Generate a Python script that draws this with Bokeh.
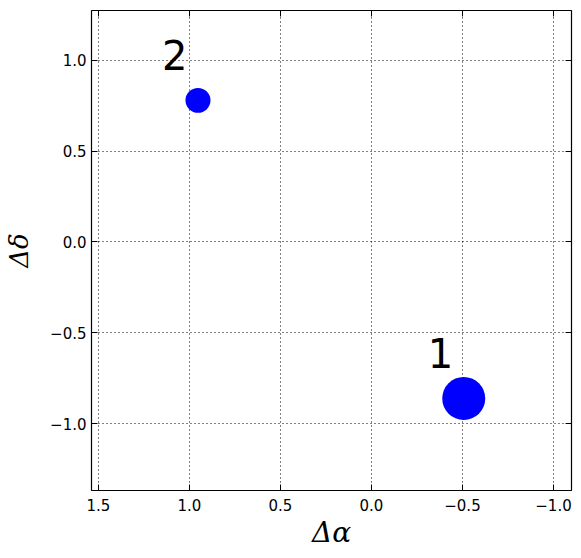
from bokeh.plotting import figure
from bokeh.models import Range1d, LinearAxis, FixedTicker, CustomJSTickFormatter, ColumnDataSource
from bokeh.embed import file_html
from bokeh.resources import INLINE
from bokeh.core.properties import value

# data
labels = ["1", "2"]
d_alpha = [-0.507, 0.953]
d_delta = [-0.862, 0.780]
sizes = [43, 25]
x_ticks = [1.5, 1.0, 0.5, 0.0, -0.5, -1.0]
y_ticks = [-1.0, -0.5, 0.0, 0.5, 1.0]

src = ColumnDataSource(dict(x=d_alpha, y=d_delta, s=sizes, t=labels))

p = figure(frame_width=480, frame_height=480, output_backend="svg", toolbar_location=None,
           x_range=Range1d(1.538, -1.099), y_range=Range1d(-1.369, 1.275),
           min_border_left=91, min_border_top=10, min_border_right=2, min_border_bottom=10)

fmt = CustomJSTickFormatter(code="return tick.toFixed(1).replace('-', '\u2212');")
blank = CustomJSTickFormatter(code="return '';")
font = "DejaVu Sans"

for ax, tk in ((p.xaxis[0], x_ticks), (p.yaxis[0], y_ticks)):
    ax.ticker = FixedTicker(ticks=tk)
    ax.formatter = fmt
    ax.major_tick_in = 6
    ax.major_tick_out = 0
    ax.minor_tick_in = 0
    ax.minor_tick_out = 0
    ax.axis_line_color = None
    ax.major_label_text_font = font
    ax.major_label_text_font_size = "15px"
    ax.major_label_text_color = "black"
    ax.axis_label_text_font = "DejaVu Serif"
    ax.axis_label_text_font_style = "italic"
    ax.axis_label_text_font_size = "28px"
    ax.axis_label_text_color = "black"

p.xaxis[0].axis_label = "Δα"
p.yaxis[0].axis_label = "Δδ"
p.yaxis[0].axis_label_text_font_size = "26px"
p.xaxis[0].major_label_standoff = 8
p.yaxis[0].major_label_standoff = 5
p.xaxis[0].axis_label_standoff = 2
p.yaxis[0].axis_label_standoff = 13

for loc, tk in (("above", x_ticks), ("right", y_ticks)):
    a = LinearAxis(ticker=FixedTicker(ticks=tk), formatter=blank, major_tick_in=6, major_tick_out=0,
                   minor_tick_in=0, minor_tick_out=0, axis_line_color=None,
                   major_label_standoff=0)
    p.add_layout(a, loc)

p.xgrid.ticker = FixedTicker(ticks=x_ticks)
p.ygrid.ticker = FixedTicker(ticks=y_ticks)
for g in (p.xgrid[0], p.ygrid[0]):
    g.grid_line_color = "black"
    g.grid_line_dash = "1 3"
    g.grid_line_width = 1

p.outline_line_color = "black"
p.outline_line_width = 1.2

p.scatter("x", "y", size="s", source=src, fill_color="#0000ff", line_color=None)
p.text("x", "y", text="t", source=src, x_offset=-36, y_offset=-45,
       text_font=value(font), text_font_size="40px", text_baseline="alphabetic",
       text_align="left", text_color="black")

open("out.html", "w").write(file_html(p, INLINE))
